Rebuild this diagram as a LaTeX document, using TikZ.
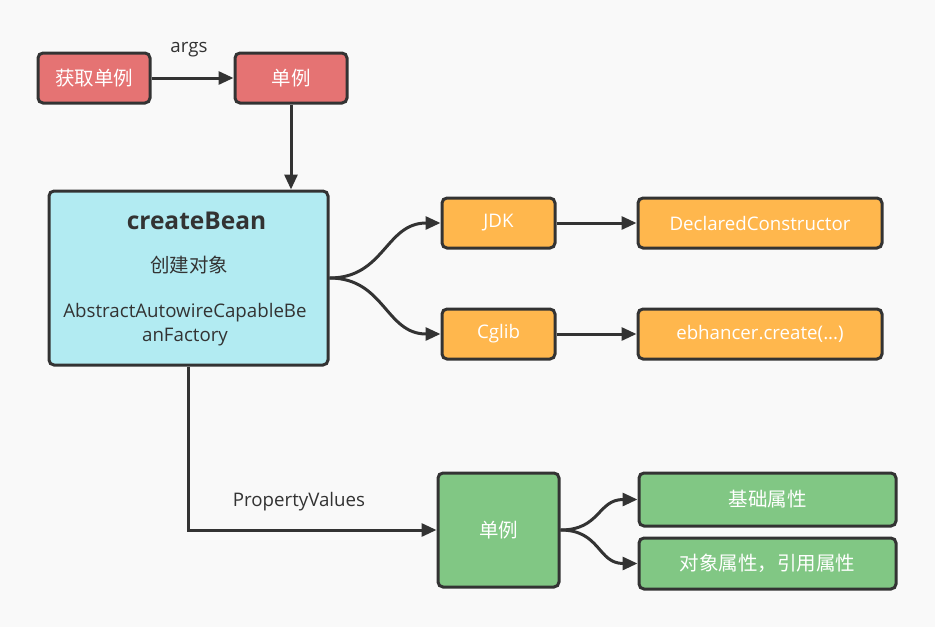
\documentclass[tikz,border=0pt]{standalone}
\usepackage{fontspec}
\setmainfont{Open Sans}
\newfontfamily\cjk{Noto Sans CJK SC}
\usetikzlibrary{arrows.meta,calc}
\definecolor{bg}{HTML}{F9F9F9}
\definecolor{edge}{HTML}{333333}
\definecolor{redf}{HTML}{E57373}
\definecolor{cyanf}{HTML}{B2EBF2}
\definecolor{orangef}{HTML}{FFB74D}
\definecolor{greenf}{HTML}{81C784}
\begin{document}
\begin{tikzpicture}[x=1pt,y=-1pt,
  box/.style={draw=edge, line width=3pt, rounded corners=5pt, inner sep=0pt, text=white,
    font=\fontsize{18.7}{23}\selectfont},
  cbox/.style={box, font=\cjk\fontsize{19.5}{23}\selectfont},
  txt/.style={inner sep=0pt, text=edge, font=\fontsize{18.7}{23}\selectfont},
  arr/.style={draw=edge, line width=3pt, -{Triangle[length=15pt,width=13pt]}}]
\fill[bg] (0,0) rectangle (935,627);
\useasboundingbox (0,0) rectangle (935,627);

\node[cbox, fill=redf, minimum width=112pt, minimum height=50pt] (g1) at (94,78) {获取单例};
\node[cbox, fill=redf, minimum width=112pt, minimum height=50pt] (s1) at (291,78) {单例};
\node[box, fill=cyanf, minimum width=279pt, minimum height=174pt] (cb) at (188.5,278) {};
\node[txt, font=\bfseries\fontsize{24.5}{28}\selectfont] (cbt) at (196.5,221) {createBean};
\node[txt, font=\cjk\fontsize{19.5}{23}\selectfont] (cbz) at (189,265) {创建对象};
\node[txt] (cba) at (185,313) {AbstractAutowireCapableBe};
\node[txt] (cbb) at (185,337) {anFactory};

\node[box, fill=orangef, minimum width=113pt, minimum height=50pt] (jdk) at (498.5,223) {JDK};
\node[box, fill=orangef, minimum width=244pt, minimum height=50pt] (dc) at (760,223) {DeclaredConstructor};
\node[box, fill=orangef, minimum width=113pt, minimum height=50pt] (cg) at (498.5,334) {Cglib};
\node[box, fill=orangef, minimum width=244pt, minimum height=50pt] (eb) at (760,334) {ebhancer.create(...)};

\node[cbox, fill=greenf, minimum width=121pt, minimum height=114pt] (s2) at (498.5,530) {单例};
\node[cbox, fill=greenf, minimum width=257pt, minimum height=53pt] (p1) at (767.5,499.5) {基础属性};
\node[cbox, fill=greenf, minimum width=257pt, minimum height=51pt] (p2) at (767.5,563.5) {对象属性，引用属性};

\draw[arr] (g1.east) -- (s1.west);
\node[txt] (args) at (189,50) {args};
\draw[arr] (s1.south) -- (s1.south |- cb.north);
\draw[arr] (cb.east) .. controls +(55,0) and +(-55,0) .. (jdk.west);
\draw[arr] (cb.east) .. controls +(55,0) and +(-55,0) .. (cg.west);
\draw[arr] (jdk.east) -- (dc.west);
\draw[arr] (cg.east) -- (eb.west);
\draw[arr] (cb.south) |- (s2.west);
\node[txt] (pv) at (299,502) {PropertyValues};
\draw[arr] (s2.east) .. controls +(40,0) and +(-40,0) .. (p1.west);
\draw[arr] (s2.east) .. controls +(40,0) and +(-40,0) .. (p2.west);
\end{tikzpicture}
\end{document}
